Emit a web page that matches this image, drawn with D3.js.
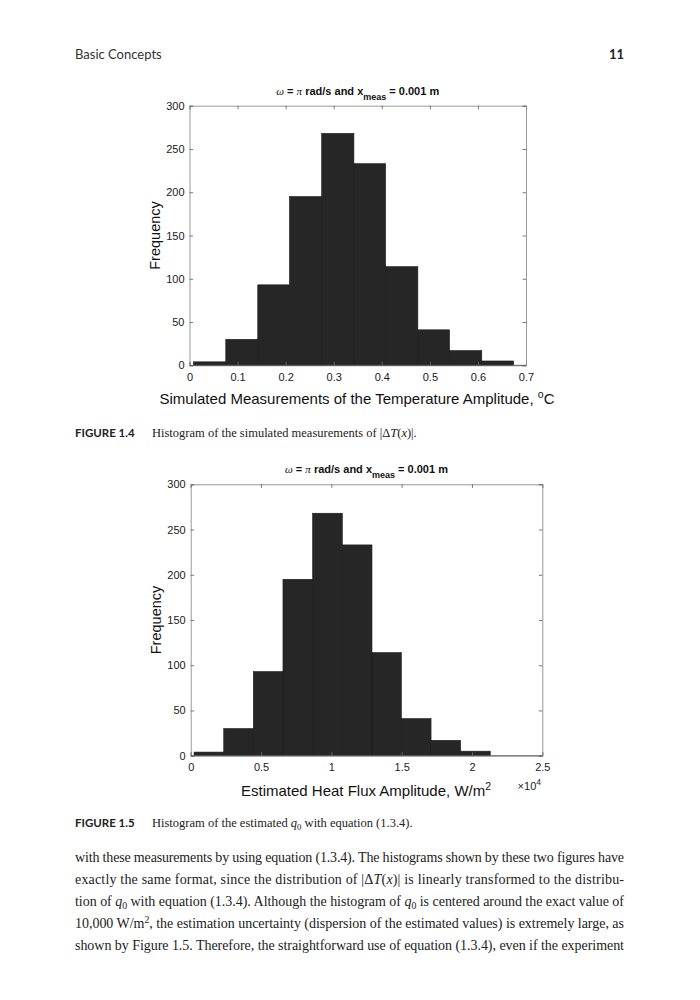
<!DOCTYPE html>
<html>
<head>
<meta charset="utf-8">
<script src="https://cdn.jsdelivr.net/npm/d3@7"></script>
<style>
  body { margin: 0; background: #fff; }
  svg { display: block; }
  .tick text { font-family: "Liberation Sans", Arial, sans-serif; }
</style>
</head>
<body>
<div id="page"></div>
<script>
// histogram counts (same sample, both figures)
var counts = [4, 30, 93, 195, 268, 233, 114, 41, 17, 5];
// bin edges
var tempEdges = [0.0083, 0.0755, 0.142, 0.208, 0.275, 0.342, 0.408, 0.475, 0.541, 0.608, 0.674];
var fluxEdges = [0.024, 0.235, 0.445, 0.656, 0.867, 1.078, 1.289, 1.498, 1.709, 1.919, 2.130];
// tick labels
var tempTicks = [0, 0.1, 0.2, 0.3, 0.4, 0.5, 0.6, 0.7];
var fluxTicks = [0, 0.5, 1, 1.5, 2, 2.5];
var freqTicks = [0, 50, 100, 150, 200, 250, 300];

var sans = "'Liberation Sans', Arial, sans-serif";
var serif = "'Liberation Serif', 'Times New Roman', serif";
var bookSans = "Lato, 'Open Sans', sans-serif";

var svg = d3.select('#page').append('svg')
    .attr('width', 700)
    .attr('height', 1000);

svg.append('rect').attr('width', 700).attr('height', 1000).attr('fill', '#fff');

// running header
svg.append('text')
    .attr('x', 75).attr('y', 59)
    .style('font-family', bookSans).style('font-size', '13px').attr('fill', '#333')
    .text('Basic Concepts');
svg.append('text')
    .attr('x', 624).attr('y', 59)
    .attr('text-anchor', 'end')
    .style('font-family', bookSans).style('font-size', '13px').style('font-weight', 'bold').attr('fill', '#222')
    .text('11');

function drawTitle(g, cx, y) {
    var t = g.append('text')
        .attr('x', cx).attr('y', y)
        .attr('text-anchor', 'middle')
        .style('font-family', sans).style('font-size', '11px').style('font-weight', 'bold')
        .attr('fill', '#111');
    t.append('tspan').style('font-style', 'italic').style('font-weight', 'normal').style('font-family', serif).text('\u03c9');
    t.append('tspan').text(' = ');
    t.append('tspan').style('font-style', 'italic').style('font-weight', 'normal').style('font-family', serif).text('\u03c0');
    t.append('tspan').text(' rad/s and x');
    t.append('tspan').attr('dy', 5).style('font-size', '9px').text('meas');
    t.append('tspan').attr('dy', -5).text(' = 0.001 m');
}

function drawHist(cfg) {
    var x = d3.scaleLinear().domain(cfg.domain).range([cfg.left, cfg.right]);
    var y = d3.scaleLinear().domain([0, 300]).range([cfg.bottom, cfg.top]);
    var g = svg.append('g');

    var bins = counts.map(function(c, i) {
        return { x0: cfg.edges[i], x1: cfg.edges[i + 1], n: c };
    });

    g.selectAll('rect.bar')
        .data(bins)
        .enter().append('rect')
        .attr('class', 'bar')
        .attr('x', function(d) { return x(d.x0); })
        .attr('width', function(d) { return x(d.x1) - x(d.x0); })
        .attr('y', function(d) { return y(d.n); })
        .attr('height', function(d) { return y(0) - y(d.n); })
        .attr('fill', '#262626')
        .attr('stroke', '#1a1a1a')
        .attr('stroke-width', 0.6);

    // axes box, ticks inside on all four sides
    var tk = 3.5;
    var xb = g.append('g').attr('transform', 'translate(0,' + cfg.bottom + ')')
        .call(d3.axisBottom(x).tickValues(cfg.ticks).tickSize(-tk).tickPadding(8).tickFormat(d3.format('')));
    var xt = g.append('g').attr('transform', 'translate(0,' + cfg.top + ')')
        .call(d3.axisTop(x).tickValues(cfg.ticks).tickSize(-tk).tickFormat(''));
    var yl = g.append('g').attr('transform', 'translate(' + cfg.left + ',0)')
        .call(d3.axisLeft(y).tickValues(freqTicks).tickSize(-tk).tickPadding(5));
    var yr = g.append('g').attr('transform', 'translate(' + cfg.right + ',0)')
        .call(d3.axisRight(y).tickValues(freqTicks).tickSize(-tk).tickFormat(''));

    [xb, xt, yl, yr].forEach(function(a) {
        a.select('.domain').attr('stroke', '#8c8c8c').attr('stroke-width', 0.9);
        a.selectAll('.tick line').attr('stroke', '#6a6a6a').attr('stroke-width', 0.9);
        a.selectAll('.tick text').style('font-size', '11px').attr('fill', '#1a1a1a');
    });
    // bottom axis line over the bar edges
    g.append('line')
        .attr('x1', cfg.left).attr('x2', cfg.right)
        .attr('y1', cfg.bottom).attr('y2', cfg.bottom)
        .attr('stroke', '#555').attr('stroke-width', 0.8);

    drawTitle(g, (cfg.left + cfg.right) / 2, cfg.top - 11);

    g.append('text')
        .attr('transform', 'translate(' + (cfg.left - 30) + ',' + ((cfg.top + cfg.bottom) / 2) + ') rotate(-90)')
        .attr('text-anchor', 'middle')
        .style('font-family', sans).style('font-size', '14.5px').attr('fill', '#111')
        .text('Frequency');

    return { g: g, x: x, y: y };
}

// Figure 1.4
var h1 = drawHist({ domain: [0, 0.7], left: 189.5, right: 526, top: 105.7, bottom: 365.3, edges: tempEdges, ticks: tempTicks });
var xl1 = h1.g.append('text')
    .attr('x', 357).attr('y', 404)
    .attr('text-anchor', 'middle')
    .style('font-family', sans).style('font-size', '15px').attr('fill', '#111')
    .text('Simulated Measurements of the Temperature Amplitude, ');
xl1.append('tspan').attr('dy', -6).style('font-size', '10.5px').text('o');
xl1.append('tspan').attr('dy', 6).text('C');

// Figure 1.5
var h2 = drawHist({ domain: [0, 2.5], left: 190.7, right: 542.3, top: 484.3, bottom: 755.7, edges: fluxEdges, ticks: fluxTicks });
var xl2 = h2.g.append('text')
    .attr('x', 366).attr('y', 796)
    .attr('text-anchor', 'middle')
    .style('font-family', sans).style('font-size', '15px').attr('fill', '#111')
    .text('Estimated Heat Flux Amplitude, W/m');
xl2.append('tspan').attr('dy', -6).style('font-size', '10.5px').text('2');
var ex = h2.g.append('text')
    .attr('x', 541).attr('y', 790)
    .attr('text-anchor', 'end')
    .style('font-family', sans).style('font-size', '11px').attr('fill', '#222')
    .text('\u00d710');
ex.append('tspan').attr('dy', -5).style('font-size', '8.5px').text('4');

// captions
function caption(label, y, parts) {
    svg.append('text')
        .attr('x', 75).attr('y', y)
        .style('font-family', bookSans).style('font-size', '11.5px').style('font-weight', 'bold').attr('fill', '#222')
        .text(label);
    var t = svg.append('text')
        .attr('x', 152).attr('y', y)
        .style('font-family', serif).style('font-size', '12.5px').attr('fill', '#222');
    addParts(t, parts);
}

function addParts(t, parts) {
    parts.forEach(function(p) {
        var s = t.append('tspan').text(p[0]);
        if (p[1] === 'i') s.style('font-style', 'italic');
        if (p[1] === 'sub') s.attr('dy', 3).style('font-size', '0.7em');
        if (p[1] === 'sup') s.attr('dy', -5).style('font-size', '0.7em');
        if (p[2]) s.attr('dy', p[2]);
    });
}

caption('FIGURE 1.4', 437, [['Histogram of the simulated measurements of |\u0394'], ['T', 'i'], ['('], ['x', 'i'], [')|.']]);
caption('FIGURE 1.5', 827, [['Histogram of the estimated '], ['q', 'i'], ['0', 'sub'], [' with equation (1.3.4).', '', -3]]);

// body text
var para = [
    [['with these measurements by using equation (1.3.4). The histograms shown by these two figures have']],
    [['exactly the same format, since the distribution of |\u0394'], ['T', 'i'], ['('], ['x', 'i'], [')| is linearly transformed to the distribu-']],
    [['tion of '], ['q', 'i'], ['0', 'sub'], [' with equation (1.3.4). Although the histogram of ', '', -3], ['q', 'i'], ['0', 'sub'], [' is centered around the exact value of', '', -3]],
    [['10,000 W/m'], ['2', 'sup'], [', the estimation uncertainty (dispersion of the estimated values) is extremely large, as', '', 5]],
    [['shown by Figure 1.5. Therefore, the straightforward use of equation (1.3.4), even if the experiment']]
];

para.forEach(function(line, i) {
    var t = svg.append('text')
        .attr('x', 75).attr('y', 862 + i * 22)
        .attr('textLength', 549).attr('lengthAdjust', 'spacing')
        .style('font-family', serif).style('font-size', '14px').attr('fill', '#222');
    addParts(t, line);
});
</script>
</body>
</html>
